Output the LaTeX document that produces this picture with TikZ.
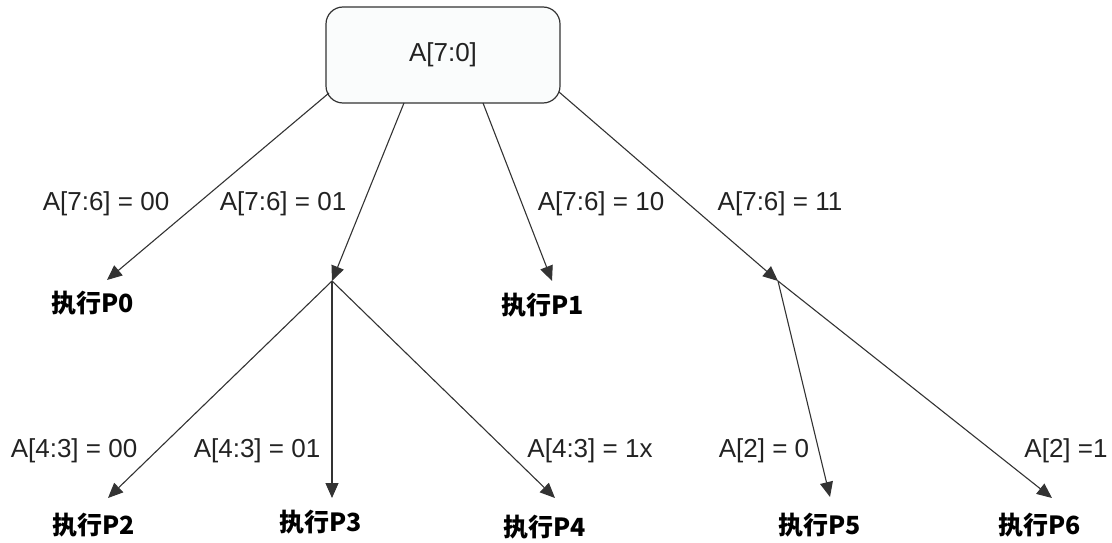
\documentclass[tikz,border=0pt]{standalone}
\usepackage{fontspec}
\setmainfont{Liberation Sans}
\newfontfamily\cjk{Noto Sans CJK SC}
\usetikzlibrary{arrows.meta}
\definecolor{ln}{HTML}{333333}
\definecolor{tx}{HTML}{222222}
\definecolor{boxfill}{HTML}{FAFCFC}
\tikzset{
  conn/.style={draw=ln, line width=1.1pt},
  arr/.style={conn, -{Triangle[length=15pt,width=13pt]}},
  lbl/.style={text=tx, font=\fontsize{26}{30}\selectfont, inner sep=0pt},
  act/.style={text=black, font=\cjk\bfseries\fontsize{25}{30}\selectfont, inner sep=0pt},
  rootbox/.style={draw=ln, line width=1.2pt, fill=boxfill, rounded corners=17pt,
    minimum width=234pt, minimum height=96pt, text=tx, font=\fontsize{26}{30}\selectfont}
}
\begin{document}
\begin{tikzpicture}[x=1pt,y=-1pt]
\useasboundingbox (0,0) rectangle (1112,543);
\node[rootbox] (root) at (443,55) {A[7:0]};
% start points on box border
\coordinate (s0) at (329,93);
\coordinate (s1) at (404,103);
\coordinate (s2) at (483,103);
\coordinate (s3) at (559,92);
% junctions
\coordinate (j1) at (332,281);
\coordinate (j2) at (778,281);
% arrow tips
\coordinate (t0) at (107,280);
\coordinate (t1) at (552,281);
\coordinate (t2) at (108,498);
\coordinate (t3) at (332,498);
\coordinate (t4) at (555,498);
\coordinate (t5) at (830,497);
\coordinate (t6) at (1052,498);
% action nodes
\node[act] (p0) at (93,303) {执行P0};
\node[act] (p1) at (543,305) {执行P1};
\node[act] (p2) at (94,525) {执行P2};
\node[act] (p3) at (321,522) {执行P3};
\node[act] (p4) at (545,527) {执行P4};
\node[act] (p5) at (820,525) {执行P5};
\node[act] (p6) at (1040,525) {执行P6};
% connectors
\draw[arr] (s0) -- (t0);
\draw[arr] (s1) -- (j1);
\draw[arr] (s2) -- (t1);
\draw[arr] (s3) -- (j2);
\draw[arr] (j1) -- (t2);
\draw[arr] (j1) -- (t3);
\draw[arr] (j1) -- (t4);
\draw[arr] (j2) -- (t5);
\draw[arr] (j2) -- (t6);
% labels
\node[lbl] (l0) at (106,204) {A[7:6] = 00};
\node[lbl] (l1) at (283,204) {A[7:6] = 01};
\node[lbl] (l2) at (601,204) {A[7:6] = 10};
\node[lbl] (l3) at (780,204) {A[7:6] = 11};
\node[lbl] (l4) at (74,451) {A[4:3] = 00};
\node[lbl] (l5) at (257,451) {A[4:3] = 01};
\node[lbl] (l6) at (590,451) {A[4:3] = 1x};
\node[lbl] (l7) at (764,451) {A[2] = 0};
\node[lbl] (l8) at (1066,451) {A[2] =1};
\end{tikzpicture}
\end{document}
